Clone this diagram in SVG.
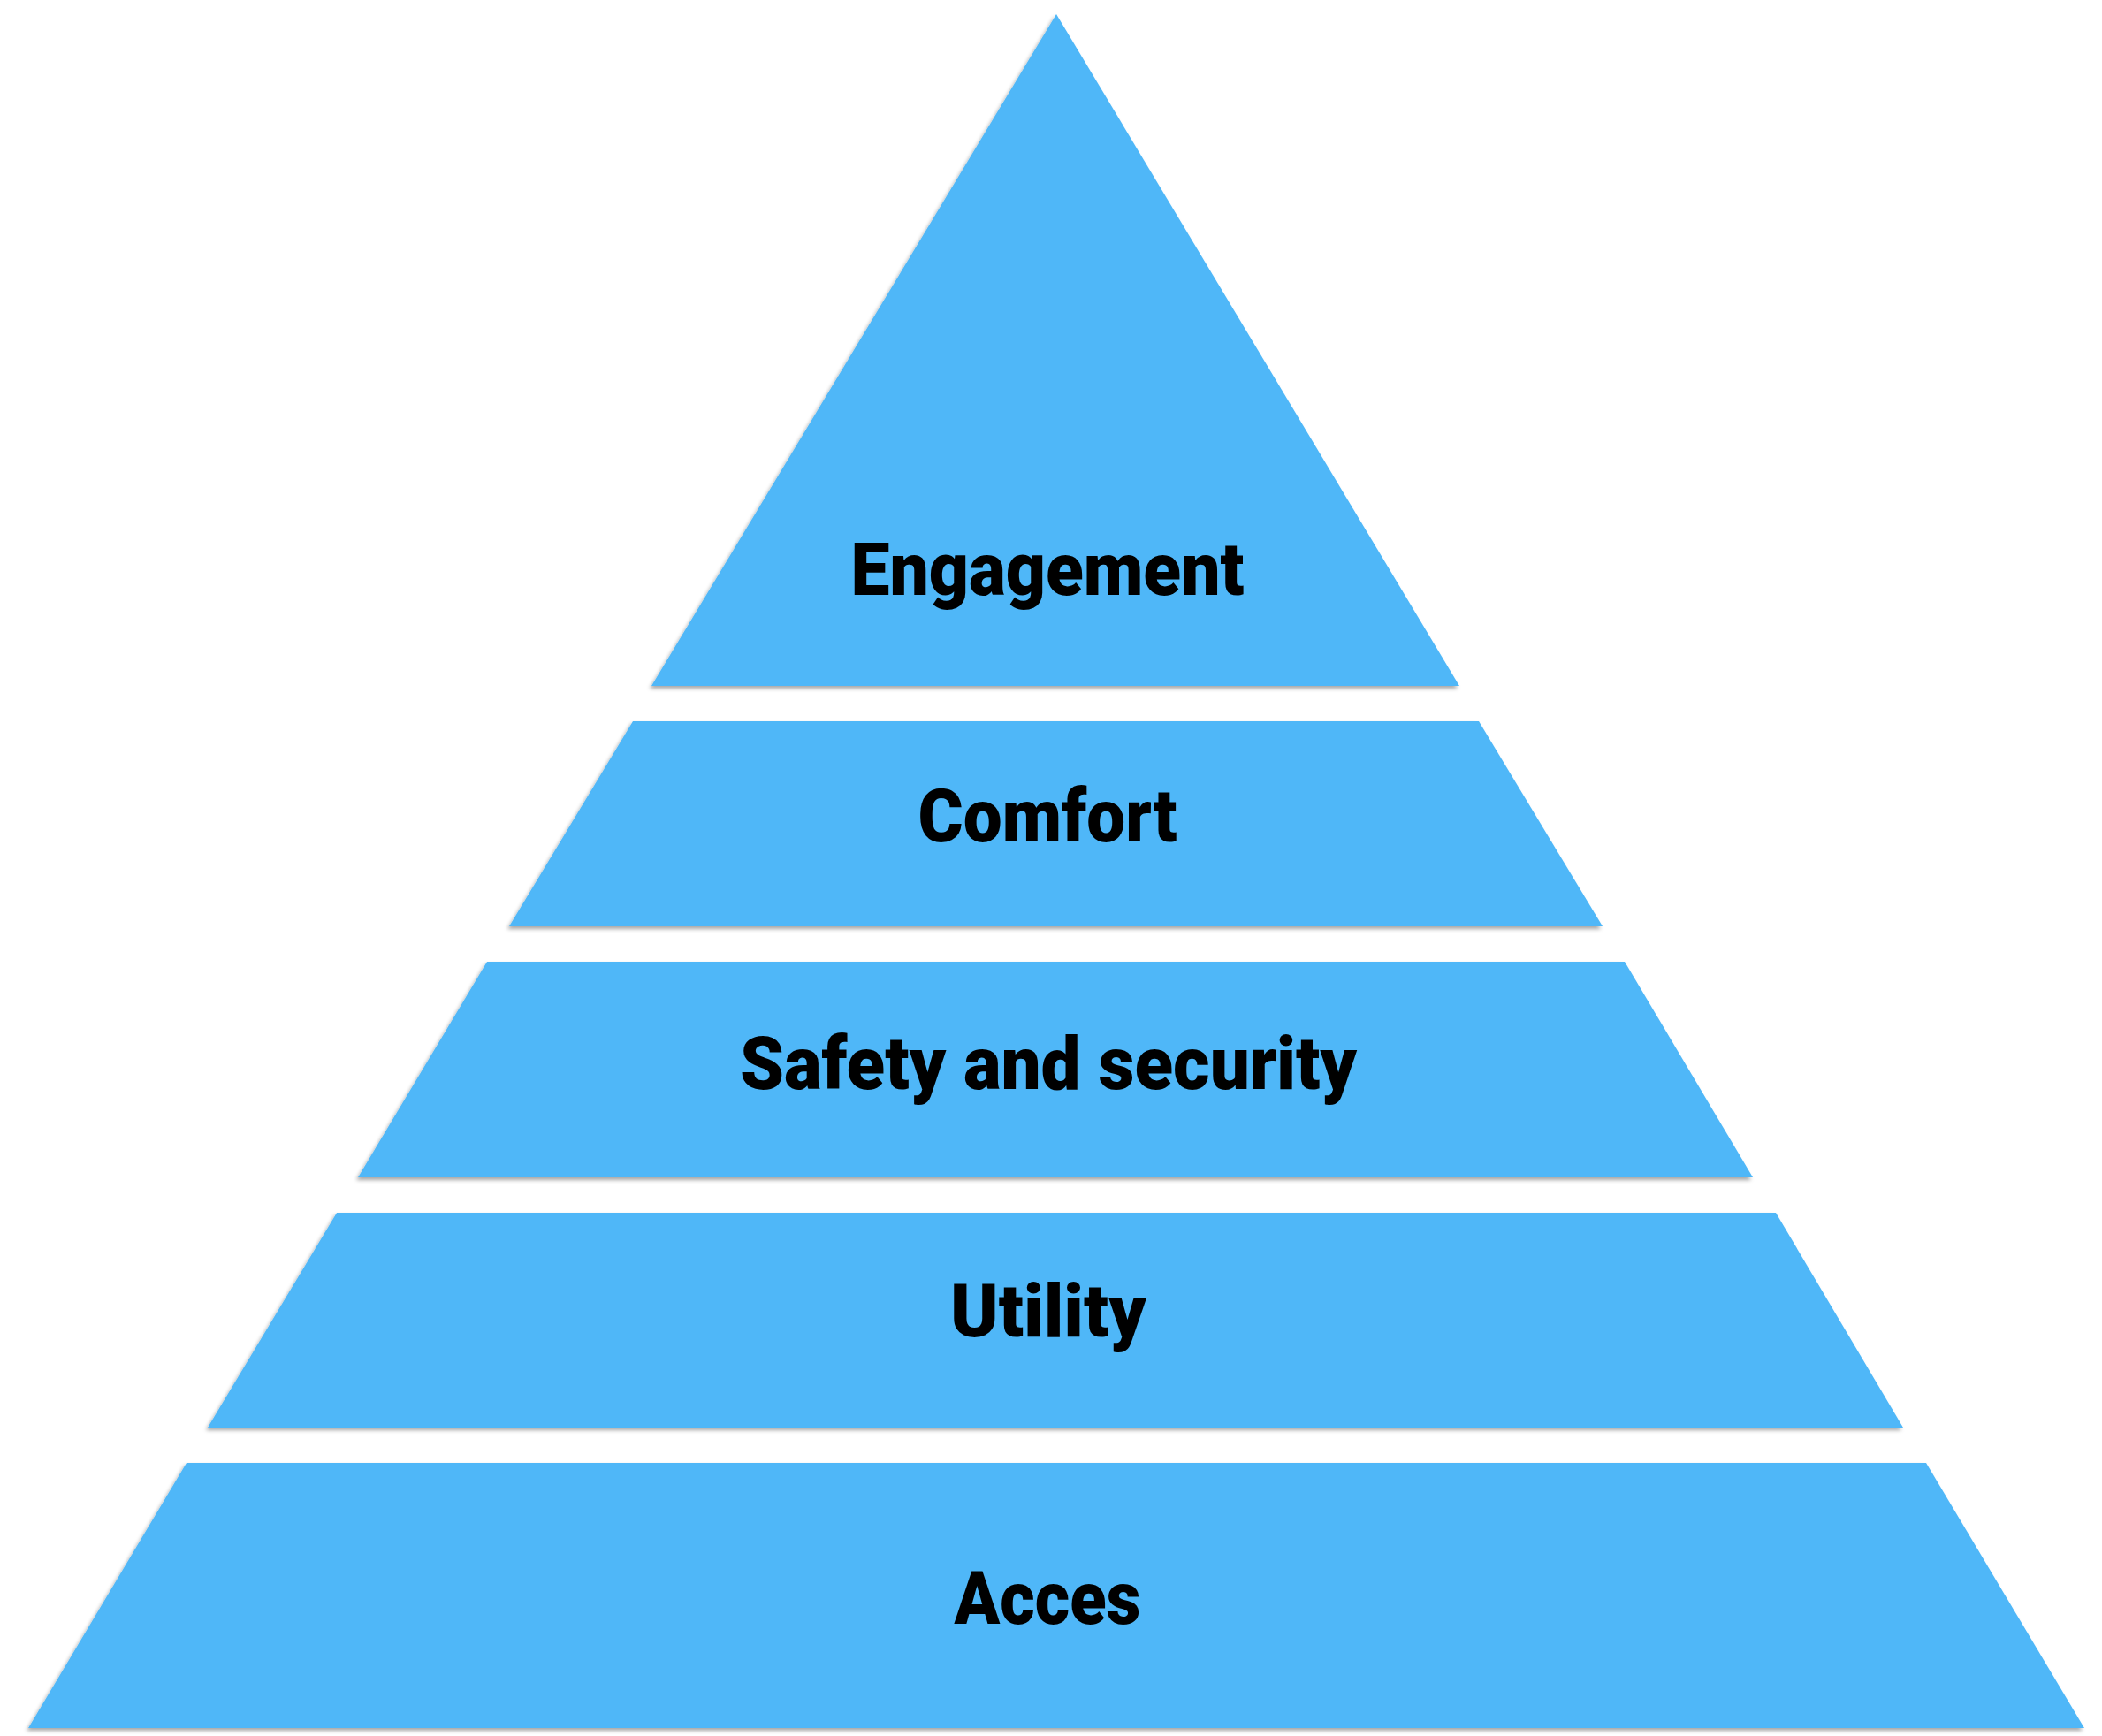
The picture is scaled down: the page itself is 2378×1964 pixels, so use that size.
<svg xmlns="http://www.w3.org/2000/svg" width="2378" height="1964" viewBox="0 0 2378 1964">
<style>
.band{fill:#4FB7F8;filter:url(#sh);}
.lbl{font-family:Roboto,"Liberation Sans",sans-serif;font-weight:900;font-size:84px;fill:#000;text-anchor:middle;}
</style>
<defs>
<filter id="sh" x="-5%" y="-5%" width="110%" height="110%">
<feDropShadow dx="-2" dy="3" stdDeviation="2" flood-color="#000" flood-opacity="0.35"/>
</filter>
</defs>
<rect width="2378" height="1964" fill="#fff"/>
<g id="engagement">
<polygon class="band" points="1195,16 1651,776 737,776"/>
<text class="lbl" x="1185" y="673" textLength="445" lengthAdjust="spacingAndGlyphs">Engagement</text>
</g>
<g id="comfort">
<polygon class="band" points="716,816 1673,816 1813,1048 576,1048"/>
<text class="lbl" x="1185" y="952" textLength="293" lengthAdjust="spacingAndGlyphs">Comfort</text>
</g>
<g id="safety">
<polygon class="band" points="551,1088 1838,1088 1983,1332 405,1332"/>
<text class="lbl" x="1186" y="1232" textLength="698" lengthAdjust="spacingAndGlyphs">Safety and security</text>
</g>
<g id="utility">
<polygon class="band" points="381,1372 2009,1372 2153,1615 235,1615"/>
<text class="lbl" x="1186" y="1512" textLength="222" lengthAdjust="spacingAndGlyphs">Utility</text>
</g>
<g id="acces">
<polygon class="band" points="211,1655 2179,1655 2358,1955 32,1955"/>
<text class="lbl" x="1185" y="1837" textLength="211" lengthAdjust="spacingAndGlyphs">Acces</text>
</g>
<g id="connectors"></g>
</svg>
